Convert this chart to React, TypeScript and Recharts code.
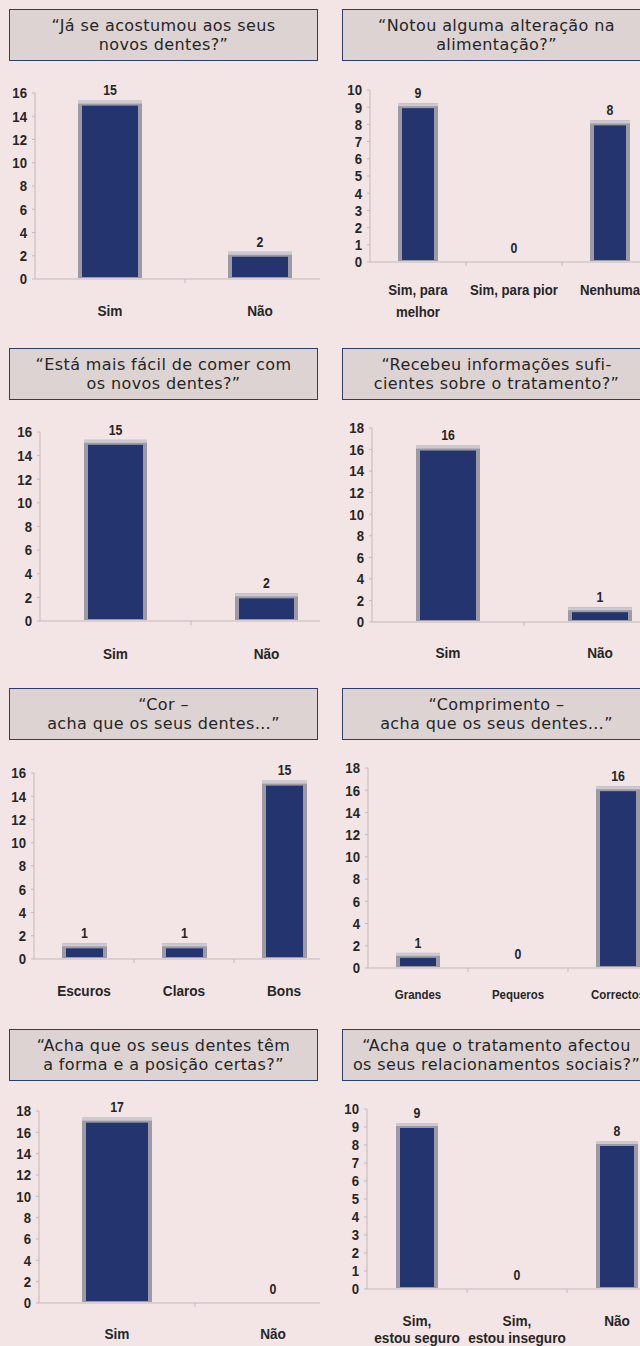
import React from 'react';
import { BarChart, Bar, XAxis, YAxis, LabelList } from 'recharts';

// ---------- DATA ----------
const titles: string[][] = [
  ['“Já se acostumou aos seus', 'novos dentes?”'],
  ['“Notou alguma alteração na', 'alimentação?”'],
  ['“Está mais fácil de comer com', 'os novos dentes?”'],
  ['“Recebeu informações sufi-', 'cientes sobre o tratamento?”'],
  ['“Cor –', 'acha que os seus dentes…”'],
  ['“Comprimento –', 'acha que os seus dentes…”'],
  ['“Acha que os seus dentes têm', 'a forma e a posição certas?”'],
  ['“Acha que o tratamento afectou', 'os seus relacionamentos sociais?”'],
];

const q1Categories = ['Sim', 'Não'];
const q1Values = [15, 2];
const q1Ticks = [0, 2, 4, 6, 8, 10, 12, 14, 16];

const q2Categories = ['Sim, para\nmelhor', 'Sim, para pior', 'Nenhuma'];
const q2Values = [9, 0, 8];
const q2Ticks = [0, 1, 2, 3, 4, 5, 6, 7, 8, 9, 10];

const q3Categories = ['Sim', 'Não'];
const q3Values = [15, 2];
const q3Ticks = [0, 2, 4, 6, 8, 10, 12, 14, 16];

const q4Categories = ['Sim', 'Não'];
const q4Values = [16, 1];
const q4Ticks = [0, 2, 4, 6, 8, 10, 12, 14, 16, 18];

const q5Categories = ['Escuros', 'Claros', 'Bons'];
const q5Values = [1, 1, 15];
const q5Ticks = [0, 2, 4, 6, 8, 10, 12, 14, 16];

const q6Categories = ['Grandes', 'Pequeros', 'Correctos'];
const q6Values = [1, 0, 16];
const q6Ticks = [0, 2, 4, 6, 8, 10, 12, 14, 16, 18];

const q7Categories = ['Sim', 'Não'];
const q7Values = [17, 0];
const q7Ticks = [0, 2, 4, 6, 8, 10, 12, 14, 16, 18];

const q8Categories = ['Sim,\nestou seguro', 'Sim,\nestou inseguro', 'Não'];
const q8Values = [9, 0, 8];
const q8Ticks = [0, 1, 2, 3, 4, 5, 6, 7, 8, 9, 10];

// ---------- STYLE / LAYOUT ----------
const BG = '#f3e4e5';
const BOX_FILL = '#ddd3d3';
const BOX_BORDER = '#2f3d6c';
const NAVY = '#24346f';
const BAR_GREY = '#9c9ba5';
const BAR_TOP = '#cdc9cf';
const AXIS = '#c4b9bb';
const TEXT = '#262626';
const ARIAL = "'Liberation Sans', Arial, sans-serif";
const TITLE_FONT = "'DejaVu Sans', 'Noto Sans', sans-serif";

type Panel = {
  title: string[];
  cats: string[];
  vals: number[];
  ticks: number[];
  col: number;
  top: number;
  boxTop: number;
  plotTop: number;
  plotBottom: number;
  plotLeft: number;
  catW: number;
  barSize: number;
  labelY: number[];
  labelFont: number;
};

const panels: Panel[] = [
  { title: titles[0], cats: q1Categories, vals: q1Values, ticks: q1Ticks, col: 0, top: 0, boxTop: 9, plotTop: 93, plotBottom: 279, plotLeft: 35, catW: 150, barSize: 64, labelY: [311], labelFont: 15.5 },
  { title: titles[1], cats: q2Categories, vals: q2Values, ticks: q2Ticks, col: 1, top: 0, boxTop: 9, plotTop: 90, plotBottom: 262, plotLeft: 50, catW: 96, barSize: 40, labelY: [290, 312], labelFont: 15 },
  { title: titles[2], cats: q3Categories, vals: q3Values, ticks: q3Ticks, col: 0, top: 339, boxTop: 348, plotTop: 432, plotBottom: 621, plotLeft: 40, catW: 151, barSize: 63, labelY: [654], labelFont: 15.5 },
  { title: titles[3], cats: q4Categories, vals: q4Values, ticks: q4Ticks, col: 1, top: 339, boxTop: 348, plotTop: 428, plotBottom: 622, plotLeft: 52, catW: 152, barSize: 64, labelY: [653], labelFont: 15.5 },
  { title: titles[4], cats: q5Categories, vals: q5Values, ticks: q5Ticks, col: 0, top: 679, boxTop: 688, plotTop: 773, plotBottom: 959, plotLeft: 34, catW: 100, barSize: 45, labelY: [991], labelFont: 15.5 },
  { title: titles[5], cats: q6Categories, vals: q6Values, ticks: q6Ticks, col: 1, top: 679, boxTop: 688, plotTop: 768, plotBottom: 968, plotLeft: 48, catW: 100, barSize: 44, labelY: [995], labelFont: 13 },
  { title: titles[6], cats: q7Categories, vals: q7Values, ticks: q7Ticks, col: 0, top: 1020, boxTop: 1029, plotTop: 1111, plotBottom: 1303, plotLeft: 39, catW: 156, barSize: 70, labelY: [1334], labelFont: 15.5 },
  { title: titles[7], cats: q8Categories, vals: q8Values, ticks: q8Ticks, col: 1, top: 1020, boxTop: 1029, plotTop: 1109, plotBottom: 1289, plotLeft: 47, catW: 100, barSize: 42, labelY: [1321, 1338], labelFont: 15.5 },
];

const PANEL_H = 340;
const XAXIS_H = 50;
const SX = 0.88; // horizontal condensing of chart text (narrow bold look)

const BarShape = (props: any) => {
  const { x, y, width, height } = props;
  if (!height || height <= 0) return null;
  return (
    <g>
      <rect x={x} y={y - 4} width={width} height={height + 3} fill={BAR_GREY} />
      <rect x={x} y={y - 4} width={width} height={3} fill={BAR_TOP} />
      <rect x={x + 4} y={y + 1} width={width - 8} height={Math.max(0, height - 3)} fill={NAVY} />
    </g>
  );
};

const CondText = ({ x, y, anchor, size, children }: any) => (
  <text
    transform={`translate(${x},${y}) scale(${SX},1)`}
    x={0}
    y={0}
    textAnchor={anchor}
    dominantBaseline="central"
    fontFamily={ARIAL}
    fontWeight="bold"
    fontSize={size}
    fill={TEXT}
  >
    {children}
  </text>
);

const makeXTick = (p: Panel) => (props: any) => {
  const { x, payload } = props;
  const lines = String(payload.value).split('\n');
  const base = p.plotBottom - p.top;
  return (
    <g>
      <line x1={x + p.catW / 2} x2={x + p.catW / 2} y1={base} y2={base + 4} stroke={AXIS} />
      {lines.map((ln, i) => (
        <CondText key={i} x={x} y={p.labelY[i] - p.top} anchor="middle" size={p.labelFont}>
          {ln}
        </CondText>
      ))}
    </g>
  );
};

const YTick = (props: any) => {
  const { x, y, payload } = props;
  return (
    <CondText x={x} y={y} anchor="end" size={15}>
      {payload.value}
    </CondText>
  );
};

const ValueLabel = (props: any) => {
  const { x, y, width, value } = props;
  return (
    <CondText x={Number(x) + Number(width) / 2} y={Number(y) - 14} anchor="middle" size={14}>
      {value}
    </CondText>
  );
};

const ChartPanel = ({ p }: { p: Panel }) => {
  const data = p.cats.map((c, i) => ({ name: c, value: p.vals[i] }));
  const width = p.plotLeft + p.catW * p.cats.length;
  const plotTopLocal = p.plotTop - p.top;
  const plotBottomLocal = p.plotBottom - p.top;
  const marginBottom = PANEL_H - plotBottomLocal - XAXIS_H;
  const max = p.ticks[p.ticks.length - 1];
  const boxLeft = p.col === 0 ? 9 : 22;
  const boxWidth = 309;
  return (
    <div
      style={{
        position: 'absolute',
        left: p.col * 320,
        top: p.top,
        width: 320,
        height: PANEL_H,
        overflow: 'hidden',
      }}
    >
      <div
        style={{
          position: 'absolute',
          left: boxLeft,
          top: p.boxTop - p.top,
          width: boxWidth,
          height: 52,
          boxSizing: 'border-box',
          border: `1.5px solid ${BOX_BORDER}`,
          background: BOX_FILL,
          display: 'flex',
          flexDirection: 'column',
          justifyContent: 'center',
          alignItems: 'center',
          fontFamily: TITLE_FONT,
          fontSize: 16,
          letterSpacing: 0.4,
          lineHeight: '19px',
          color: TEXT,
          whiteSpace: 'nowrap',
        }}
      >
        {p.title.map((t, i) => (
          <div key={i}>{t}</div>
        ))}
      </div>
      <div style={{ position: 'absolute', left: 0, top: 0 }}>
        <BarChart
          width={width}
          height={PANEL_H}
          data={data}
          margin={{ top: plotTopLocal, right: 0, bottom: marginBottom, left: 0 }}
          barCategoryGap={0}
        >
          <XAxis
            dataKey="name"
            height={XAXIS_H}
            interval={0}
            axisLine={{ stroke: AXIS }}
            tickLine={false}
            tick={makeXTick(p)}
            padding={{ left: 0, right: 0 }}
          />
          <YAxis
            width={p.plotLeft}
            domain={[0, max]}
            ticks={p.ticks}
            interval={0}
            allowDataOverflow
            axisLine={{ stroke: AXIS }}
            tickLine={{ stroke: AXIS }}
            tickSize={3}
            tickMargin={5}
            tick={<YTick />}
          />
          <Bar dataKey="value" barSize={p.barSize} isAnimationActive={false} shape={<BarShape />}>
            <LabelList dataKey="value" content={<ValueLabel />} />
          </Bar>
        </BarChart>
      </div>
    </div>
  );
};

export default function App() {
  return (
    <div
      style={{
        position: 'absolute',
        left: 0,
        top: 0,
        width: 640,
        height: 1346,
        background: BG,
        overflow: 'hidden',
      }}
    >
      {panels.map((p, i) => (
        <ChartPanel key={i} p={p} />
      ))}
    </div>
  );
}
